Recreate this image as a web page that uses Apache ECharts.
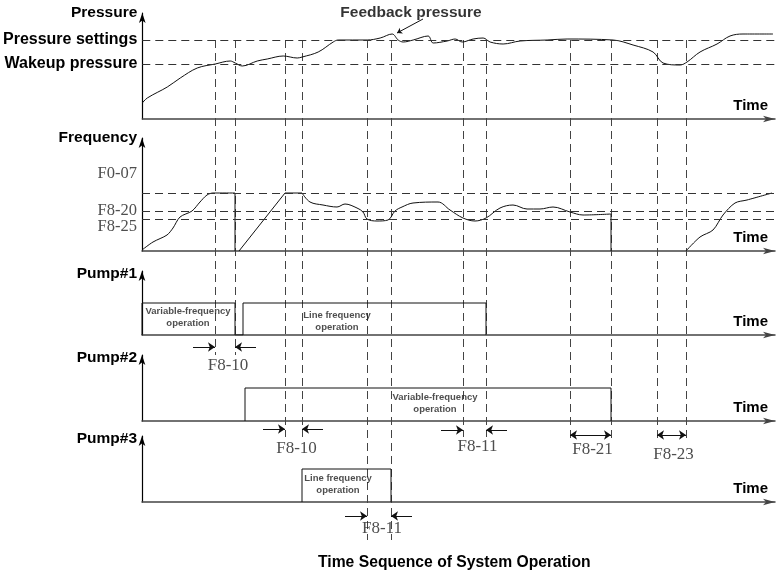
<!DOCTYPE html>
<html>
<head>
<meta charset="utf-8">
<script src="https://cdn.jsdelivr.net/npm/echarts@6/dist/echarts.min.js"></script>
<style>
  html, body { margin: 0; padding: 0; background: #fff; }
  #chart { width: 777px; height: 573px; }
</style>
</head>
<body>
<div id="chart"></div>
<script>
// time runs 0..633 along every panel
var timeMax = 633;

// pressure panel
var pressureCurve = [[0,16],[5,21],[25,32],[38,41],[55,51],[73,55],[88,58],[93,56],[100,53],[115,58],[125,60],[141,63],[155,61],[160,62],[176,67],[191,77],[196,79],[225,79],[238,81],[250,85],[256,79],[261,77],[271,79],[286,83],[291,76],[305,78],[313,80],[320,77],[331,80],[341,81],[348,77],[361,75],[378,78],[405,79],[425,80],[471,79],[491,74],[511,67],[521,56],[538,54],[545,57],[558,67],[575,75],[588,83],[601,85],[631,85]];
var pressureLevels = [79, 55];
var pressureNames = { 79: 'Pressure settings', 55: 'Wakeup pressure' };

// frequency panel
var freqRise = [[0,1],[11,9],[25,16],[31,23],[38,34],[50,40],[58,49],[65,56],[71,58],[93,58]];
var freqCut1 = [[93,58],[93,0]];
var freqRamp = [[97,0],[143,58],[160,58]];
var freqHold = [[160,58],[168,49],[181,46],[195,44],[203,47],[215,43],[221,39],[225,32],[235,30],[246,31],[253,40],[260,44],[271,48],[296,49],[308,41],[321,33],[333,30],[344,33],[358,43],[371,46],[385,42],[398,42],[411,44],[428,39],[441,36],[469,37]];
var freqCut2 = [[469,37],[469,0]];
var freqRecover = [[544,0],[558,14],[571,21],[581,36],[593,48],[605,51],[630,58]];
var freqLines = [58, 40, 32];
var freqLabelNames = ['F0-07', 'F8-20', 'F8-25'];
var freqLabelValues = [77, 40, 24];

// pumps (0 = off, 1 = running)
var pump1 = [[0,0],[0,1],[93,1],[93,0],[101,0],[101,1],[344,1],[344,0]];
var pump2 = [[103,0],[103,1],[469,1],[469,0]];
var pump3 = [[160,0],[160,1],[249,1],[249,0]];

// switching instants (dashed verticals) and how far down each reaches
var cutTimes = [73, 93, 143, 160, 225, 249, 321, 344, 428, 469, 515, 544];
var cutEnds = [355, 355, 437, 437, 540, 540, 437, 437, 442, 442, 440, 440];

// parameter spans
var paramNames = ['F8-10', 'F8-10', 'F8-11', 'F8-21', 'F8-23', 'F8-11'];
var paramFrom = [73, 143, 321, 428, 515, 225];
var paramTo = [93, 160, 344, 469, 544, 249];
var paramRows = [347, 429, 430, 435, 435, 516];
var paramBoth = [false, false, false, true, true, false];

var sans = 'Liberation Sans, Arial, sans-serif';
var serif = 'Liberation Serif, Times New Roman, serif';

var panels = [
  { top: 13, axis: 119, max: 106, name: 'Pressure' },
  { top: 138, axis: 251, max: 113, name: 'Frequency' },
  { top: 271, axis: 335, max: 2, name: 'Pump#1' },
  { top: 355, axis: 421, max: 2, name: 'Pump#2' },
  { top: 436, axis: 502, max: 2, name: 'Pump#3' }
];

var grids = [], xAxes = [], yAxes = [];
panels.forEach(function (p, i) {
  grids.push({ left: 142, right: 2, top: p.top, height: p.axis - p.top });
  xAxes.push({
    type: 'value', gridIndex: i, min: 0, max: timeMax,
    axisLine: { show: true, lineStyle: { color: '#444', width: 1.5 }, symbol: ['none', 'arrow'], symbolSize: [5, 12] },
    axisTick: { show: false }, axisLabel: { show: false }, splitLine: { show: false },
    name: 'Time', nameLocation: 'end', nameGap: -7,
    nameTextStyle: { align: 'right', verticalAlign: 'bottom', padding: [0, 0, 6, 0], fontSize: 15, fontWeight: 'bold', fontFamily: sans, color: '#000' }
  });
  var y = {
    type: 'value', gridIndex: i, min: 0, max: p.max,
    axisLine: { show: true, lineStyle: { color: '#000', width: 1.2 }, symbol: ['none', 'arrow'], symbolSize: [5, 10] },
    axisTick: { show: false }, axisLabel: { show: false }, splitLine: { show: false },
    name: p.name, nameLocation: 'end', nameGap: i < 2 ? 0 : -3,
    nameTextStyle: { align: 'right', verticalAlign: 'middle', padding: [0, 5, 0, 0], fontSize: 15.5, fontWeight: 'bold', fontFamily: sans, color: '#000' }
  };
  if (i === 0) {
    y.axisLabel = { show: true, customValues: pressureLevels, margin: 5, fontSize: 16, fontWeight: 'bold', fontFamily: sans, color: '#000',
      formatter: function (v) { return pressureNames[v] || ''; } };
  }
  yAxes.push(y);
});

// overlay panel spanning the whole picture, rows counted from the top
grids.push({ left: 142, right: 2, top: 0, height: 573 });
xAxes.push({ type: 'value', gridIndex: 5, min: 0, max: timeMax, show: false });
yAxes.push({ type: 'value', gridIndex: 5, min: 0, max: 573, inverse: true, show: false });

var curve = { color: '#111', width: 1 };
var dash = { color: '#333', width: 1, type: [8, 5] };

function lineSeries(grid, data, smooth) {
  return { type: 'line', xAxisIndex: grid, yAxisIndex: grid, data: data, smooth: smooth || false,
    symbol: 'none', lineStyle: curve, silent: true, animation: false, z: 3 };
}
function textSeries(grid, items, style) {
  return { type: 'scatter', xAxisIndex: grid, yAxisIndex: grid, symbolSize: 0, silent: true, animation: false, z: 4, clip: false,
    labelLayout: { hideOverlap: false },
    data: items, label: Object.assign({ show: true, position: 'inside', formatter: '{b}', color: '#111' }, style) };
}

var series = [];
var pSeries = lineSeries(0, pressureCurve, 0.35);
pSeries.markLine = { symbol: 'none', silent: true, animation: false, label: { show: false }, lineStyle: dash,
  data: pressureLevels.map(function (v) { return { yAxis: v }; }) };
series.push(pSeries);

var fSeries = lineSeries(1, freqRise, 0.3);
fSeries.markLine = { symbol: 'none', silent: true, animation: false, label: { show: false }, lineStyle: dash,
  data: freqLines.map(function (v) { return { yAxis: v }; }) };
series.push(fSeries);
series.push(lineSeries(1, freqCut1));
series.push(lineSeries(1, freqRamp));
series.push(lineSeries(1, freqHold, 0.35));
series.push(lineSeries(1, freqCut2));
series.push(lineSeries(1, freqRecover, 0.3));
series.push(textSeries(1, freqLabelNames.map(function (n, i) {
  return { name: n, value: [0, freqLabelValues[i]] };
}), { position: 'left', distance: 5, fontSize: 16.5, fontFamily: serif, color: '#222' }));

series.push(lineSeries(2, pump1));
series.push(lineSeries(3, pump2));
series.push(lineSeries(4, pump3));

var boxStyle = { fontSize: 9.5, fontWeight: 'bold', fontFamily: sans, lineHeight: 12, align: 'center', color: '#222' };
series.push(textSeries(2, [
  { name: 'Variable-frequency\noperation', value: [46, 0.56] },
  { name: 'Line frequency\noperation', value: [195, 0.42] }
], boxStyle));
series.push(textSeries(3, [{ name: 'Variable-frequency\noperation', value: [293, 0.52] }], boxStyle));
series.push(textSeries(4, [{ name: 'Line frequency\noperation', value: [196, 0.53] }], boxStyle));

// dashed verticals
series.push({ type: 'lines', coordinateSystem: 'cartesian2d', xAxisIndex: 5, yAxisIndex: 5, silent: true, animation: false, z: 2,
  symbol: 'none', lineStyle: { color: '#444', width: 1, type: [8, 5], opacity: 1 },
  data: cutTimes.map(function (t, i) { return { coords: [[t, 40], [t, cutEnds[i]]] }; }) });

// parameter arrows
var single = [], both = [];
paramNames.forEach(function (n, i) {
  var r = paramRows[i];
  if (paramBoth[i]) {
    both.push({ coords: [[paramFrom[i], r], [paramTo[i], r]] });
  } else {
    single.push({ coords: [[paramFrom[i] - 22, r], [paramFrom[i], r]] });
    single.push({ coords: [[paramTo[i] + 21, r], [paramTo[i], r]] });
  }
});
series.push({ type: 'lines', coordinateSystem: 'cartesian2d', xAxisIndex: 5, yAxisIndex: 5, silent: true, animation: false, z: 3,
  symbol: ['none', 'arrow'], symbolSize: 7, lineStyle: { color: '#111', width: 1, opacity: 1 }, data: single });
series.push({ type: 'lines', coordinateSystem: 'cartesian2d', xAxisIndex: 5, yAxisIndex: 5, silent: true, animation: false, z: 3,
  symbol: ['arrow', 'arrow'], symbolSize: 7, lineStyle: { color: '#111', width: 1, opacity: 1 }, data: both });
// feedback leader
series.push({ type: 'lines', coordinateSystem: 'cartesian2d', xAxisIndex: 5, yAxisIndex: 5, silent: true, animation: false, z: 3,
  symbol: ['none', 'arrow'], symbolSize: 5, lineStyle: { color: '#111', width: 1, opacity: 1 },
  data: [{ coords: [[281, 19], [255, 33]] }] });

var labelRows = [366, 449, 447, 450, 455, 529];
series.push(textSeries(5, paramNames.map(function (n, i) {
  return { name: n, value: [(paramFrom[i] + paramTo[i]) / 2 + (paramBoth[i] ? 2 : 3), labelRows[i]] };
}), { fontSize: 17, fontFamily: serif, color: '#222' }));
series.push(textSeries(5, [{ name: 'Feedback pressure', value: [269, 13] }],
  { fontSize: 15.5, fontWeight: 'bold', fontFamily: sans, color: '#000' }));

var chart = echarts.init(document.getElementById('chart'), null, { renderer: 'canvas' });
chart.setOption({
  backgroundColor: '#fff',
  animation: false,
  title: { text: 'Time Sequence of System Operation', left: 313, top: 550,
    textStyle: { fontSize: 15.7, fontWeight: 'bold', fontFamily: sans, color: '#000' } },
  grid: grids,
  xAxis: xAxes,
  yAxis: yAxes,
  series: series
});
</script>
</body>
</html>
